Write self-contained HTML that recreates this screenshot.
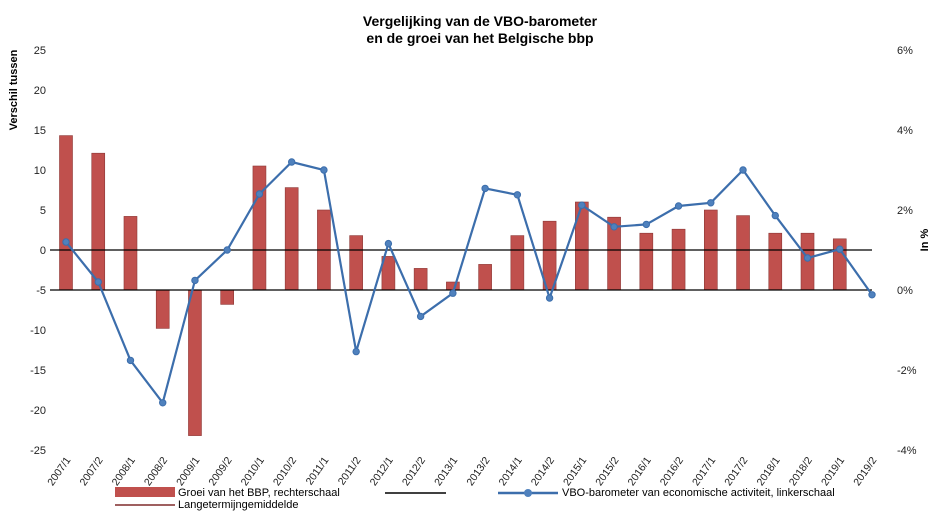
<!DOCTYPE html>
<html><head><meta charset="utf-8"><style>body{margin:0;background:#fff}svg{display:block;font-family:"Liberation Sans",sans-serif}</style></head><body>
<svg width="947" height="528" viewBox="0 0 947 528">
<text x="480" y="26" text-anchor="middle" font-size="14" font-weight="bold">Vergelijking van de VBO-barometer</text>
<text x="480" y="43" text-anchor="middle" font-size="14" font-weight="bold">en de groei van het Belgische bbp</text>
<text transform="translate(17,90) rotate(-90)" text-anchor="middle" font-size="11" font-weight="bold">Verschil tussen</text>
<text transform="translate(928,240) rotate(-90)" text-anchor="middle" font-size="11" font-weight="bold">In %</text>
<g font-size="11" fill="#222" text-anchor="end" id="ly"></g>
<g font-size="11" fill="#222" id="ry"></g>
<g id="bars" fill="#c0504d" stroke="#8c3836" stroke-width="0.6"></g>
<line x1="50" y1="250" x2="872" y2="250" stroke="#000" stroke-width="1.3"/>
<line x1="50" y1="290" x2="872" y2="290" stroke="#000" stroke-width="1.3"/>
<polyline id="ln" fill="none" stroke="#3c6eac" stroke-width="2.2"/>
<g id="pts" fill="#4f81bd" stroke="#3c6eac"></g>
<g id="xl" font-size="10.5" fill="#222"></g>
<rect x="115" y="487" width="60" height="10" fill="#c0504d"/>
<text x="178" y="496" font-size="11">Groei van het BBP, rechterschaal</text>
<line x1="115" y1="505" x2="175" y2="505" stroke="#600" stroke-width="1.2"/>
<text x="178" y="508" font-size="11">Langetermijngemiddelde</text>
<line x1="385" y1="493" x2="446" y2="493" stroke="#000" stroke-width="1.5"/>
<line x1="498" y1="493" x2="558" y2="493" stroke="#3c6eac" stroke-width="2.5"/>
<circle cx="528" cy="493" r="4" fill="#4f81bd"/>
<text x="562" y="496" font-size="11">VBO-barometer van economische activiteit, linkerschaal</text>
</svg>
<script>
var ns="http://www.w3.org/2000/svg";
function el(p,t,a,txt){var e=document.createElementNS(ns,t);for(var k in a)e.setAttribute(k,a[k]);if(txt!=null)e.textContent=txt;document.getElementById(p).appendChild(e);}
for(var v=25;v>=-25;v-=5)el("ly","text",{x:46,y:250-v*8+4},v);
for(var v=6;v>=-4;v-=2)el("ry","text",{x:897,y:290-v*40+4},v+"%");
var bars=[14.3,12.1,4.2,-9.8,-23.2,-6.8,10.5,7.8,5.0,1.8,-0.8,-2.3,-4.0,-1.8,1.8,3.6,6.0,4.1,2.1,2.6,5.0,4.3,2.1,2.1,1.4,null];
var line=[1.0,-4.0,-13.8,-19.1,-3.8,0,7.0,11,10,-12.7,0.8,-8.3,-5.4,7.7,6.9,-6,5.6,2.9,3.2,5.5,5.9,10,4.3,-1.0,0.1,-5.6];
var pts=[];
for(var i=0;i<26;i++){var x=66+i*32.24;
 if(bars[i]!=null){var y=250-bars[i]*8;el("bars","rect",{x:x-6.5,y:Math.min(y,290),width:13,height:Math.abs(290-y)});}
 var ly=250-line[i]*8;pts.push(x+","+ly);el("pts","circle",{cx:x,cy:ly,r:3.2});
 var lab=(2007+Math.floor(i/2))+"/"+(i%2+1);
 el("xl","text",{transform:"translate("+(x+5)+",460) rotate(-55)","text-anchor":"end"},lab);}
document.getElementById("ln").setAttribute("points",pts.join(" "));
</script>
</body></html>
